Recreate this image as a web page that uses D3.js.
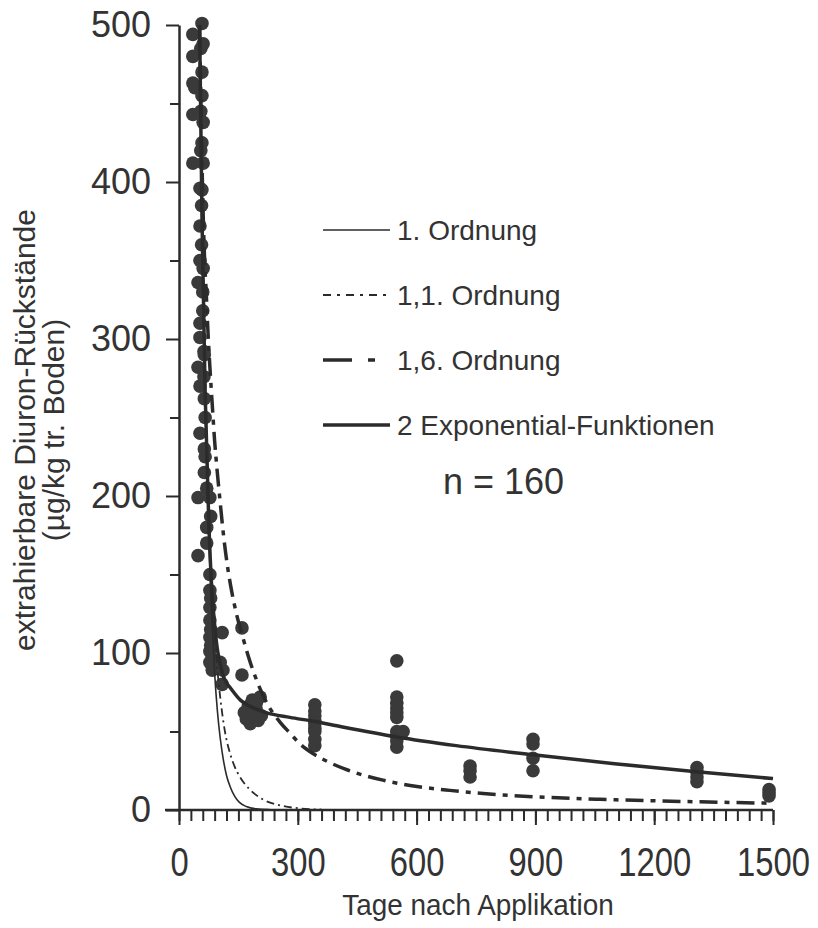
<!DOCTYPE html>
<html>
<head>
<meta charset="utf-8">
<script src="https://cdn.jsdelivr.net/npm/d3@7"></script>
<style>
  body { margin: 0; background: #fff; }
  svg { display: block; font-family: "Liberation Sans", Arial, sans-serif; }
</style>
</head>
<body>
<svg id="chart" width="818" height="928"></svg>
<script>
const width = 818;
const height = 928;

// tick labels
const xTicks = [0, 300, 600, 900, 1200, 1500];
const yTicks = [0, 100, 200, 300, 400, 500];

// measured residues: day after application / value (µg/kg)
const obsDays = [
  35, 35, 35, 35, 35, 40,
  48, 48, 48, 48,
  53, 53, 53, 53, 53, 53, 53,
  55, 55, 55, 57, 57, 60, 60, 63, 63, 66, 66, 70, 70, 70,
  58, 58, 58, 58, 58,
  61, 61, 61, 61,
  64, 64, 64, 64,
  78, 78, 78, 78, 78, 78, 78, 78,
  80, 80, 80, 80,
  84, 84, 84,
  104, 109, 109, 111,
  159, 159,
  165, 170, 175, 180, 185, 190, 195, 200, 205, 208, 185, 195,
  343, 343, 343, 343, 343, 343, 343, 343, 343,
  550, 550, 550, 550, 550, 550, 550, 550, 550, 550, 566,
  735, 735, 735,
  894, 894, 894, 894,
  1308, 1308, 1308, 1308,
  1490, 1490, 1490
];
const obsValues = [
  494, 480, 463, 443, 412, 460,
  336, 282, 199, 162,
  396, 301, 372, 350, 310, 270, 240,
  485, 445, 420, 385, 360, 330, 318, 292, 276, 250, 225, 205, 180, 170,
  501, 455, 425, 470, 395,
  488, 438, 412, 345,
  290, 262, 230, 215,
  199, 150, 140, 129, 121, 101, 94, 110,
  187, 135, 115, 105,
  113, 89, 96,
  94, 113, 80, 89,
  116, 86,
  62, 58, 66, 55, 70, 60, 64, 57, 72, 60, 61, 68,
  67, 63, 60, 57, 55, 52, 50, 45, 41,
  95, 72, 68, 65, 62, 59, 50, 47, 44, 40, 50,
  28, 25, 21,
  45, 42, 33, 25,
  27, 24, 21, 18,
  13, 11, 9
];

// fitted curves: [day, value]
const firstOrder = [
  [52, 500], [58, 376], [66, 262], [74, 182], [83, 121], [90, 87], [97, 63],
  [104, 46], [112, 32], [120, 22], [129, 15], [140, 9], [152, 5], [170, 2.2],
  [195, 0.7], [230, 0.2], [280, 0]
];
const order11 = [
  [52, 500], [58, 380], [66, 268], [75, 190], [84, 135], [94, 98], [104, 72],
  [116, 50], [129, 36], [140, 28], [154, 21], [179, 13], [210, 7], [255, 3],
  [306, 1], [360, 0.3]
];
const order16 = [
  [52, 500], [56, 440], [60, 390], [64, 355], [69, 328], [74, 300], [79, 278],
  [84, 258], [90, 235], [96, 217], [104, 196], [112, 176], [122, 156], [134, 138],
  [146, 124], [160, 111], [175, 98], [197, 82], [222, 68], [255, 56], [280, 49],
  [306, 42], [338, 36], [374, 31], [420, 26], [515, 19], [601, 15], [684, 12.5],
  [768, 10.5], [894, 8.5], [1063, 6.8], [1316, 5.2], [1500, 4.3]
];
const twoExp = [
  [52, 500], [58, 378], [66, 266], [75, 185], [83, 140], [90, 118], [96, 104],
  [104, 93], [111, 86], [120, 81], [129, 78], [155, 70], [180, 66], [220, 62],
  [280, 59], [340, 56.5], [410, 53], [550, 46.5], [700, 41], [900, 35],
  [1100, 29.5], [1300, 24.5], [1500, 20]
];

const legendLabels = ["1. Ordnung", "1,1. Ordnung", "1,6. Ordnung", "2 Exponential-Funktionen"];

const ink = "#2b2b2b";
const svg = d3.select("#chart");

const x = d3.scaleLinear().domain([0, 1500]).range([179, 773]);
const y = d3.scaleLinear().domain([0, 500]).range([810, 25]);

// --- axes ---
const xMinor = svg.append("g")
  .attr("transform", `translate(0,810)`)
  .call(d3.axisBottom(x).tickValues(d3.range(0, 1501, 30)).tickSize(11).tickFormat(""));
xMinor.select(".domain").remove();

const xAxis = svg.append("g")
  .attr("transform", `translate(0,810)`)
  .call(d3.axisBottom(x).tickValues(xTicks).tickSize(15).tickPadding(23)
    .tickSizeOuter(0).tickFormat(d3.format("d")));
xAxis.select(".domain").attr("d", `M165,0H${x(1500)}`);

const yMinor = svg.append("g")
  .attr("transform", `translate(179,0)`)
  .call(d3.axisLeft(y).tickValues(d3.range(50, 500, 100)).tickSize(9).tickFormat(""));
yMinor.select(".domain").remove();

const yAxis = svg.append("g")
  .attr("transform", `translate(179,0)`)
  .call(d3.axisLeft(y).tickValues(yTicks).tickSize(13).tickPadding(15).tickSizeOuter(0));

svg.selectAll(".domain").attr("stroke", ink).attr("stroke-width", 2.5);
svg.selectAll(".tick line").attr("stroke", ink).attr("stroke-width", 2);

xAxis.selectAll(".tick text")
  .attr("font-size", 40)
  .attr("fill", "#333")
  .attr("transform", "scale(0.82,1)");

yAxis.selectAll(".tick text")
  .attr("font-size", 36)
  .attr("fill", "#333");

// axis titles
svg.append("text")
  .attr("transform", `translate(478,915) scale(0.93,1)`)
  .attr("text-anchor", "middle")
  .attr("font-size", 30)
  .attr("fill", "#333")
  .text("Tage nach Applikation");

svg.append("text")
  .attr("transform", "translate(35,430) rotate(-90)")
  .attr("text-anchor", "middle")
  .attr("font-size", 30)
  .attr("fill", "#333")
  .text("extrahierbare Diuron-Rückstände");

svg.append("text")
  .attr("transform", "translate(64,430) rotate(-90)")
  .attr("text-anchor", "middle")
  .attr("font-size", 30)
  .attr("fill", "#333")
  .text("(µg/kg tr. Boden)");

// --- points ---
svg.append("g")
  .selectAll("circle")
  .data(obsDays.map((d, i) => [d, obsValues[i]]))
  .join("circle")
  .attr("cx", d => x(d[0]))
  .attr("cy", d => y(d[1]))
  .attr("r", 6.8)
  .attr("fill", "#3a3a3a");

// --- curves ---
const line = d3.line()
  .x(d => x(d[0]))
  .y(d => y(d[1]))
  .curve(d3.curveMonotoneX);

const series = [
  { data: firstOrder, width: 1.6, dash: null },
  { data: order11, width: 1.8, dash: "8,4,2,4" },
  { data: order16, width: 3.5, dash: "18,7,5,7" },
  { data: twoExp, width: 3.5, dash: null }
];

svg.append("g")
  .selectAll("path")
  .data(series)
  .join("path")
  .attr("d", d => line(d.data))
  .attr("fill", "none")
  .attr("stroke", ink)
  .attr("stroke-width", d => d.width)
  .attr("stroke-dasharray", d => d.dash);

// --- legend ---
const legendDash = [null, "8,6,3,6", "29,16,7,20", null];
const legendWidth = [1.6, 1.8, 3.5, 3.5];
const legendY = [230, 295, 360, 425];

const legend = svg.append("g");
legendLabels.forEach((label, i) => {
  legend.append("line")
    .attr("x1", 323).attr("x2", 390)
    .attr("y1", legendY[i]).attr("y2", legendY[i])
    .attr("stroke", ink)
    .attr("stroke-width", legendWidth[i])
    .attr("stroke-dasharray", legendDash[i]);
  legend.append("text")
    .attr("x", 397)
    .attr("y", legendY[i] + 10)
    .attr("font-size", 28)
    .attr("fill", "#333")
    .text(label);
});

svg.append("text")
  .attr("x", 443)
  .attr("y", 494)
  .attr("font-size", 36)
  .attr("fill", "#333")
  .text("n = 160");
</script>
</body>
</html>
